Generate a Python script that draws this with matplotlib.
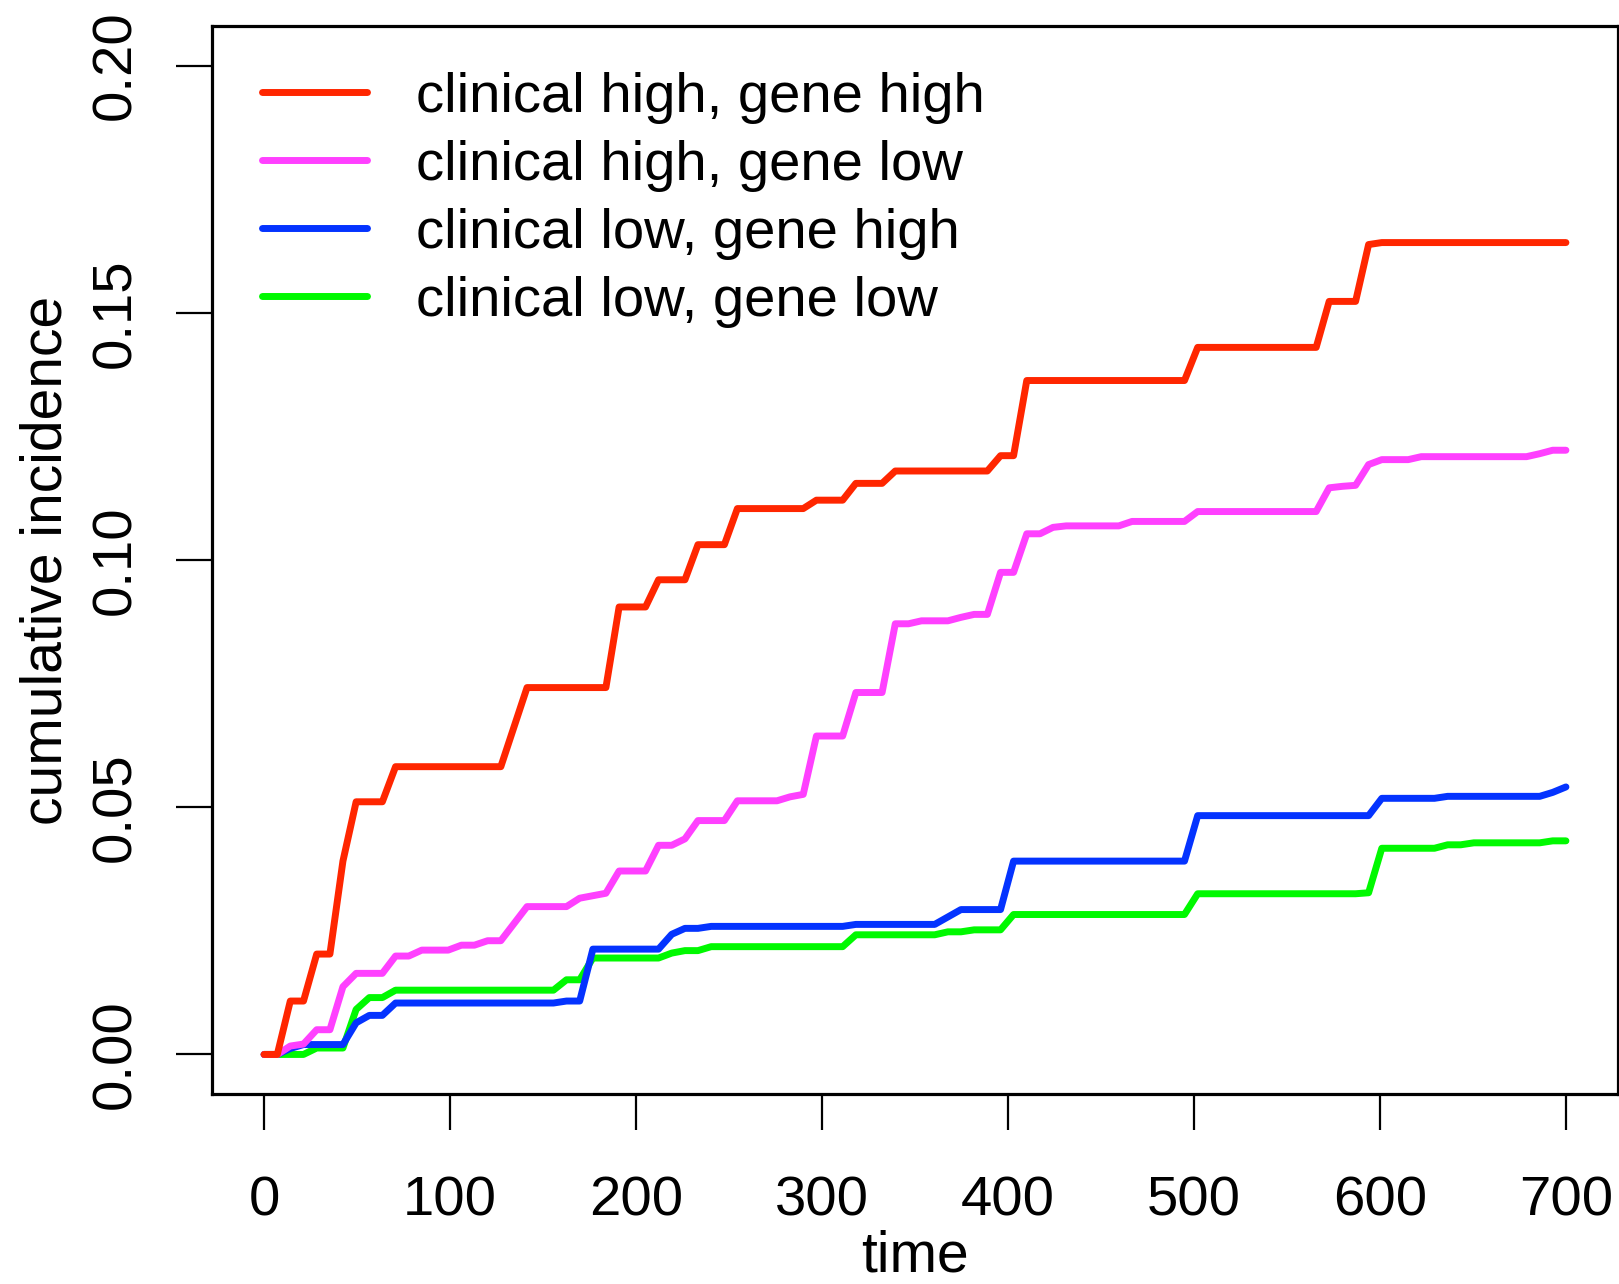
import matplotlib
matplotlib.use("Agg")
import matplotlib.pyplot as plt

plt.rcParams['font.family'] = ['Liberation Sans', 'DejaVu Sans']

# ---- data (vertices) ----
red_t = [0, 7.1, 14.1, 21.2, 28.3, 35.4, 42.4, 49.5, 63.6, 70.7, 127.3, 141.4, 183.8, 190.9,
         205.1, 212.1, 226.3, 233.3, 247.5, 254.5, 289.9, 297.0, 311.1, 318.2, 332.3, 339.4,
         388.9, 396.0, 403.0, 410.1, 494.9, 502.0, 565.7, 572.7, 586.9, 593.9, 601.0, 700]
red_v = [0, 0, 0.0108, 0.0108, 0.0203, 0.0203, 0.0391, 0.0511, 0.0511, 0.0582, 0.0582, 0.0742,
         0.0742, 0.0905, 0.0905, 0.096, 0.096, 0.1031, 0.1031, 0.1104, 0.1104, 0.1121, 0.1121,
         0.1155, 0.1155, 0.118, 0.118, 0.1211, 0.1211, 0.1363, 0.1363, 0.143, 0.143, 0.1523,
         0.1523, 0.1638, 0.1642, 0.1642]

pink_t = [0, 7.1, 14.1, 21.2, 28.3, 35.4, 42.4, 49.5, 63.6, 70.7, 77.8, 84.8, 99.0, 106.1, 113.1,
          120.2, 127.3, 141.4, 162.6, 169.7, 183.8, 190.9, 205.1, 212.1, 219.2, 226.3, 233.3,
          247.5, 254.5, 275.8, 282.8, 289.9, 297.0, 311.1, 318.2, 332.3, 339.4, 346.5, 353.5,
          367.7, 374.7, 381.8, 388.9, 396.0, 403.0, 410.1, 417.2, 424.2, 431.3, 459.6, 466.7,
          494.9, 502.0, 565.7, 572.7, 579.8, 586.9, 593.9, 601.0, 615.2, 622.2, 678.8, 685.9,
          692.9, 700]
pink_v = [0, 0, 0.0017, 0.0021, 0.005, 0.005, 0.0137, 0.0164, 0.0164, 0.0199, 0.0199, 0.0211,
          0.0211, 0.0221, 0.0221, 0.023, 0.023, 0.0299, 0.0299, 0.0316, 0.0326, 0.0371, 0.0371,
          0.0423, 0.0423, 0.0436, 0.0473, 0.0473, 0.0513, 0.0513, 0.0521, 0.0526, 0.0644, 0.0644,
          0.0732, 0.0732, 0.0871, 0.0871, 0.0877, 0.0877, 0.0884, 0.089, 0.089, 0.0975, 0.0975,
          0.1053, 0.1053, 0.1066, 0.1069, 0.1069, 0.1078, 0.1078, 0.1098, 0.1098, 0.1146, 0.1149,
          0.1151, 0.1193, 0.1203, 0.1203, 0.1209, 0.1209, 0.1215, 0.1222, 0.1222]

blue_t = [0, 7.1, 14.1, 21.2, 42.4, 49.5, 56.6, 63.6, 70.7, 155.6, 162.6, 169.7, 176.8, 212.1,
          219.2, 226.3, 233.3, 240.4, 311.1, 318.2, 360.6, 374.7, 396.0, 403.0, 494.9, 502.0,
          593.9, 601.0, 629.3, 636.4, 685.9, 692.9, 700]
blue_v = [0, 0, 0.0012, 0.002, 0.002, 0.0064, 0.0079, 0.0079, 0.0104, 0.0104, 0.0108, 0.0108,
          0.0213, 0.0213, 0.0243, 0.0255, 0.0255, 0.0259, 0.0259, 0.0263, 0.0263, 0.0293, 0.0293,
          0.0391, 0.0391, 0.0483, 0.0483, 0.0518, 0.0518, 0.0522, 0.0522, 0.053, 0.0541]

green_t = [0, 21.2, 28.3, 42.4, 49.5, 56.6, 63.6, 70.7, 155.6, 162.6, 169.7, 176.8, 212.1, 219.2,
           226.3, 233.3, 240.4, 311.1, 318.2, 360.6, 367.7, 374.7, 381.8, 396.0, 403.0, 494.9,
           502.0, 586.9, 593.9, 601.0, 629.3, 636.4, 643.4, 650.5, 685.9, 692.9, 700]
green_v = [0, 0, 0.0013, 0.0013, 0.0091, 0.0115, 0.0115, 0.013, 0.013, 0.0151, 0.0151, 0.0195,
           0.0195, 0.0205, 0.021, 0.021, 0.0218, 0.0218, 0.0242, 0.0242, 0.0248, 0.0248, 0.0252,
           0.0252, 0.0283, 0.0283, 0.0325, 0.0325, 0.0327, 0.0417, 0.0417, 0.0424, 0.0424,
           0.0428, 0.0428, 0.0432, 0.0432]

labels = ["clinical high, gene high", "clinical high, gene low",
          "clinical low, gene high", "clinical low, gene low"]
colors = ["#FF2600", "#FF40FF", "#0433FF", "#00F900"]
x_ticks = [0, 100, 200, 300, 400, 500, 600, 700]
y_ticks = [0.00, 0.05, 0.10, 0.15, 0.20]
y_ticklabels = ["0.00", "0.05", "0.10", "0.15", "0.20"]

W, H = 1619, 1284
fig = plt.figure(figsize=(W / 100, H / 100), dpi=100)
ax = fig.add_axes([212 / W, (H - 1094) / H, 1406 / W, 1068 / H])

series = [(red_t, red_v), (pink_t, pink_v), (blue_t, blue_v), (green_t, green_v)]
lw = 5.0
handles = []
for i, ((t, v), c, lab) in enumerate(zip(series, colors, labels)):
    ln, = ax.plot(t, v, color=c, lw=lw, label=lab, solid_capstyle='round',
                  solid_joinstyle='round', zorder=10 + (4 - i))
    handles.append(ln)

ax.set_xlim(-28, 728)
ax.set_ylim(-0.008, 0.208)
ax.set_xticks(x_ticks)
ax.set_xticklabels([str(x) for x in x_ticks])
ax.set_yticks(y_ticks)
ax.set_yticklabels(y_ticklabels, rotation=90, va='center')

fs = 41
ax.tick_params(axis='both', direction='out', length=26, width=1.6, labelsize=40.5, color='black')
ax.tick_params(axis='x', pad=33)
ax.tick_params(axis='y', pad=24)
for s in ax.spines.values():
    s.set_linewidth(2.3)

ax.set_xlabel("time", fontsize=fs, labelpad=1)
ax.set_ylabel("cumulative incidence", fontsize=fs, labelpad=12)

leg = ax.legend(handles=handles, loc='upper left', frameon=False, fontsize=40.5,
                handlelength=1.87, handletextpad=0.86, labelspacing=0.285,
                borderaxespad=0, borderpad=0,
                bbox_to_anchor=(262 / W, (H - 72) / H), bbox_transform=fig.transFigure)
for l in leg.get_lines():
    l.set_linewidth(lw)

fig.savefig("out.png", dpi=100)
